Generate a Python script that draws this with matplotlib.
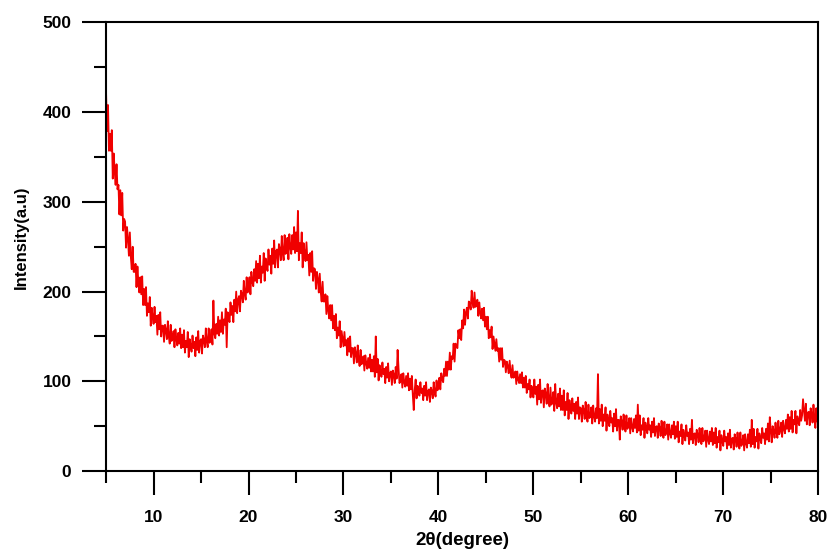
import numpy as np
import matplotlib
matplotlib.use("Agg")
import matplotlib.pyplot as plt
from matplotlib.ticker import MultipleLocator

# 2-theta grid: 5.0 .. 80.0 in 0.1 steps (10 readings per degree)
two_theta_start = 5.0
two_theta_step = 0.1

intensity = [
    420, 379, 408, 357, 376, 357, 380, 326, 354, 335,   # 5
    319, 342, 314, 319, 286, 313, 285, 310, 268, 281,   # 6
    278, 249, 272, 259, 240, 266, 239, 225, 250, 222,   # 7
    222, 231, 205, 228, 210, 199, 216, 197, 217, 185,   # 8
    203, 185, 205, 173, 187, 177, 194, 162, 182, 172,   # 9
    164, 183, 166, 173, 152, 174, 158, 177, 150, 162,   # 10
    162, 144, 163, 157, 147, 167, 150, 142, 163, 145,   # 11
    147, 156, 138, 158, 147, 140, 154, 142, 159, 137,   # 12
    152, 138, 157, 132, 145, 138, 155, 127, 147, 139,   # 13
    133, 151, 137, 144, 128, 149, 135, 156, 132, 145,   # 14
    147, 131, 151, 146, 138, 159, 144, 138, 159, 143,   # 15
    147, 158, 141, 190, 153, 148, 164, 153, 172, 151,   # 16
    168, 155, 177, 153, 169, 163, 181, 138, 177, 172,   # 17
    166, 188, 174, 184, 166, 191, 178, 200, 176, 191,   # 18
    195, 178, 201, 197, 188, 212, 197, 191, 216, 199,   # 19
    204, 216, 197, 222, 211, 206, 225, 212, 234, 210,   # 20
    231, 215, 240, 210, 228, 221, 243, 212, 237, 229,   # 21
    223, 247, 230, 240, 220, 248, 231, 257, 227, 245,   # 22
    247, 227, 253, 247, 235, 262, 243, 235, 263, 242,   # 23
    246, 260, 236, 264, 250, 242, 263, 247, 272, 243,   # 24
    266, 245, 290, 235, 254, 243, 266, 227, 254, 243,   # 25
    234, 255, 235, 241, 218, 243, 222, 245, 212, 226,   # 26
    225, 203, 222, 214, 199, 220, 200, 189, 211, 189,   # 27
    189, 197, 175, 195, 179, 170, 185, 168, 185, 159,   # 28
    173, 157, 175, 148, 160, 151, 167, 138, 156, 147,   # 29
    139, 155, 140, 146, 129, 148, 133, 150, 127, 137,   # 30
    137, 120, 138, 131, 121, 140, 124, 117, 135, 119,   # 31
    121, 128, 112, 129, 120, 114, 126, 115, 130, 111,   # 32
    124, 111, 128, 105, 150, 110, 125, 101, 118, 111,   # 33
    105, 121, 108, 114, 98, 116, 104, 120, 100, 109,    # 34
    111, 96, 112, 107, 98, 116, 103, 135, 114, 98,      # 35
    101, 108, 93, 109, 99, 94, 106, 95, 109, 90,        # 36
    103, 91, 106, 85, 68, 90, 102, 81, 95, 90,          # 37
    84, 99, 87, 92, 79, 95, 84, 99, 79, 89,             # 38
    91, 77, 93, 89, 81, 99, 88, 83, 101, 90,            # 39
    94, 104, 91, 109, 102, 99, 114, 106, 122, 106,      # 40
    122, 113, 132, 113, 128, 125, 142, 122, 142, 139,   # 41
    137, 157, 148, 158, 146, 168, 159, 180, 163, 177,   # 42
    182, 170, 189, 186, 180, 201, 188, 182, 199, 183,   # 43
    185, 191, 173, 188, 177, 170, 181, 168, 182, 161,   # 44
    172, 158, 172, 148, 157, 149, 161, 136, 150, 142,   # 45
    134, 147, 134, 137, 122, 137, 124, 137, 116, 124,   # 46
    123, 110, 122, 117, 109, 123, 110, 104, 118, 104,   # 47
    105, 111, 97, 111, 102, 98, 108, 98, 110, 93,       # 48
    104, 93, 106, 87, 97, 91, 102, 82, 95, 90,          # 49
    82, 102, 86, 94, 74, 96, 80, 102, 76, 89,           # 50
    90, 71, 92, 86, 75, 97, 79, 72, 93, 74,             # 51
    77, 88, 67, 97, 76, 70, 86, 72, 92, 68,             # 52
    84, 68, 90, 62, 77, 68, 87, 58, 79, 70,             # 53
    64, 81, 67, 75, 58, 77, 64, 82, 58, 71,             # 54
    70, 55, 73, 68, 58, 77, 62, 55, 74, 59,             # 55
    61, 71, 53, 73, 61, 55, 70, 59, 108, 53,            # 56
    69, 56, 74, 50, 63, 56, 71, 45, 63, 56,             # 57
    50, 67, 54, 59, 44, 64, 50, 69, 45, 57,             # 58
    57, 35, 61, 55, 46, 63, 51, 44, 62, 47,             # 59
    50, 59, 42, 59, 49, 44, 58, 48, 62, 43,             # 60
    74, 45, 62, 40, 51, 46, 59, 37, 54, 47,             # 61
    42, 59, 46, 51, 38, 55, 43, 59, 39, 49,             # 62
    50, 37, 53, 48, 39, 56, 44, 37, 55, 40,             # 63
    43, 52, 35, 52, 42, 37, 51, 41, 55, 36,             # 64
    50, 38, 55, 32, 44, 39, 52, 30, 46, 39,             # 65
    34, 51, 39, 43, 30, 47, 35, 57, 31, 41,             # 66
    42, 29, 46, 41, 32, 48, 36, 30, 48, 33,             # 67
    36, 45, 27, 45, 35, 30, 44, 33, 48, 29,             # 68
    43, 31, 48, 26, 38, 32, 45, 23, 40, 33,             # 69
    28, 45, 33, 38, 25, 42, 29, 46, 26, 36,             # 70
    37, 24, 41, 36, 27, 43, 31, 25, 43, 28,             # 71
    31, 40, 23, 41, 31, 26, 41, 31, 46, 27,             # 72
    57, 30, 47, 26, 38, 33, 47, 25, 42, 36,             # 73
    31, 48, 37, 42, 30, 47, 35, 53, 33, 60,             # 74
    45, 32, 50, 45, 37, 54, 43, 37, 56, 41,             # 75
    45, 54, 38, 56, 47, 42, 57, 47, 63, 44,             # 76
    60, 47, 67, 43, 57, 52, 67, 42, 61, 55,             # 77
    51, 68, 56, 62, 80, 68, 56, 75, 52, 65,             # 78
    66, 51, 70, 64, 54, 74, 58, 48, 70, 55,             # 79
    62,                                                 # 80
]

x_major = [10, 20, 30, 40, 50, 60, 70, 80]
y_major = [0, 100, 200, 300, 400, 500]

two_theta = two_theta_start + two_theta_step * np.arange(len(intensity))

plt.rcParams['font.family'] = ['Liberation Sans', 'DejaVu Sans']
plt.rcParams['font.weight'] = 'bold'

fig = plt.figure(figsize=(8.29, 5.5), dpi=100)
ax = fig.add_axes([0.128, 0.1436, 0.859, 0.8155])

ax.plot(two_theta, intensity, color='#f00000', linewidth=1.3)

ax.set_xlim(5, 80)
ax.set_ylim(0, 500)
ax.set_xticks(x_major)
ax.set_yticks(y_major)
ax.xaxis.set_minor_locator(MultipleLocator(5))
ax.yaxis.set_minor_locator(MultipleLocator(50))

for s in ax.spines.values():
    s.set_linewidth(1.5)

ax.tick_params(which='major', direction='out', length=17, width=1.5,
               labelsize=12.5, pad=8)
ax.tick_params(which='minor', direction='out', length=8.5, width=1.5)
ax.tick_params(axis='x', which='major', pad=11)
for lab in ax.get_xticklabels() + ax.get_yticklabels():
    lab.set_fontweight('bold')

ax.set_xlabel('2θ(degree)', fontsize=13.5, fontweight='bold', labelpad=5)
ax.set_ylabel('Intensity(a.u)', fontsize=12, fontweight='bold')
ax.yaxis.set_label_coords(-0.109, 0.522)

fig.savefig('out.png', dpi=100)
